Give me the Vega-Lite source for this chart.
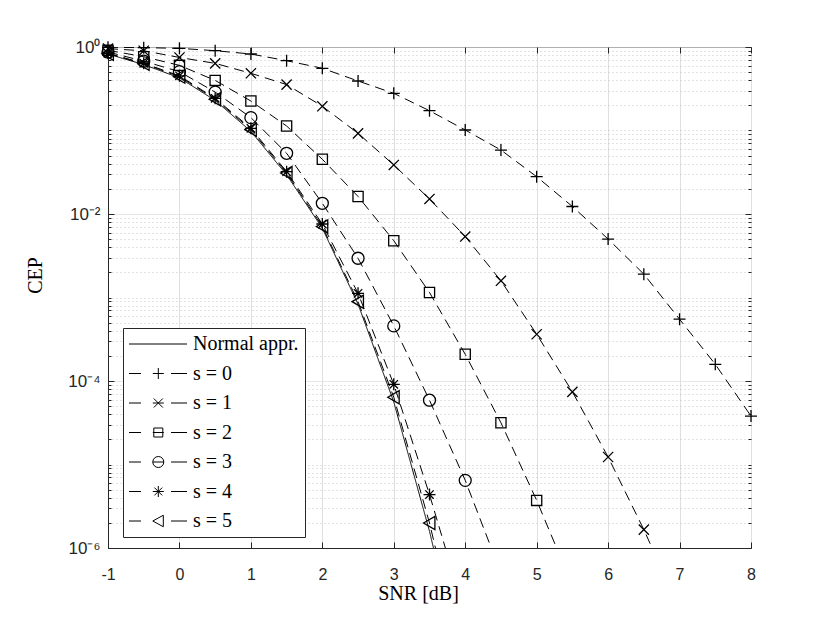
{
  "$schema": "https://vega.github.io/schema/vega-lite/v6.json",
  "width": 643,
  "height": 501,
  "autosize": {"type": "none"},
  "padding": {"left": 108, "top": 47, "right": 79, "bottom": 75},
  "background": "white",
  "config": {
    "view": {"stroke": "#262626", "strokeWidth": 1},
    "axis": {
      "domainColor": "#262626",
      "tickColor": "#262626",
      "labelColor": "#262626",
      "labelFont": "Liberation Sans",
      "labelFontSize": 16,
      "titleFont": "Liberation Serif",
      "titleFontSize": 20,
      "titleFontWeight": "normal",
      "titleColor": "#000000"
    }
  },
  "data": {
    "values": [
      {"x": -1, "y": 0.9931, "s": "s = 0"},
      {"x": -0.5, "y": 0.9817, "s": "s = 0"},
      {"x": 0, "y": 0.9638, "s": "s = 0"},
      {"x": 0.5, "y": 0.9036, "s": "s = 0"},
      {"x": 1, "y": 0.8241, "s": "s = 0"},
      {"x": 1.5, "y": 0.6855, "s": "s = 0"},
      {"x": 2, "y": 0.5559, "s": "s = 0"},
      {"x": 2.5, "y": 0.3917, "s": "s = 0"},
      {"x": 3, "y": 0.2786, "s": "s = 0"},
      {"x": 3.5, "y": 0.1726, "s": "s = 0"},
      {"x": 4, "y": 0.1014, "s": "s = 0"},
      {"x": 4.5, "y": 0.05834, "s": "s = 0"},
      {"x": 5, "y": 0.02799, "s": "s = 0"},
      {"x": 5.5, "y": 0.0123, "s": "s = 0"},
      {"x": 6, "y": 0.005012, "s": "s = 0"},
      {"x": 6.5, "y": 0.001905, "s": "s = 0"},
      {"x": 7, "y": 0.0005495, "s": "s = 0"},
      {"x": 7.5, "y": 0.0001585, "s": "s = 0"},
      {"x": 8, "y": 0.00003802, "s": "s = 0"},

      {"x": -1, "y": 0.955, "s": "s = 1"},
      {"x": -0.5, "y": 0.9016, "s": "s = 1"},
      {"x": 0, "y": 0.7499, "s": "s = 1"},
      {"x": 0.5, "y": 0.6368, "s": "s = 1"},
      {"x": 1, "y": 0.4842, "s": "s = 1"},
      {"x": 1.5, "y": 0.3548, "s": "s = 1"},
      {"x": 2, "y": 0.195, "s": "s = 1"},
      {"x": 2.5, "y": 0.09247, "s": "s = 1"},
      {"x": 3, "y": 0.03864, "s": "s = 1"},
      {"x": 3.5, "y": 0.01514, "s": "s = 1"},
      {"x": 4, "y": 0.00537, "s": "s = 1"},
      {"x": 4.5, "y": 0.001585, "s": "s = 1"},
      {"x": 5, "y": 0.0003631, "s": "s = 1"},
      {"x": 5.5, "y": 0.00007413, "s": "s = 1"},
      {"x": 6, "y": 0.0000123, "s": "s = 1"},
      {"x": 6.5, "y": 0.00000166, "s": "s = 1"},
      {"x": 7, "y": 1.862e-7, "s": "s = 1"},

      {"x": -1, "y": 0.912, "s": "s = 2"},
      {"x": -0.5, "y": 0.7656, "s": "s = 2"},
      {"x": 0, "y": 0.6026, "s": "s = 2"},
      {"x": 0.5, "y": 0.3981, "s": "s = 2"},
      {"x": 1, "y": 0.2254, "s": "s = 2"},
      {"x": 1.5, "y": 0.1132, "s": "s = 2"},
      {"x": 2, "y": 0.04519, "s": "s = 2"},
      {"x": 2.5, "y": 0.01622, "s": "s = 2"},
      {"x": 3, "y": 0.004786, "s": "s = 2"},
      {"x": 3.5, "y": 0.001148, "s": "s = 2"},
      {"x": 4, "y": 0.0002089, "s": "s = 2"},
      {"x": 4.5, "y": 0.00003162, "s": "s = 2"},
      {"x": 5, "y": 0.000003715, "s": "s = 2"},
      {"x": 5.5, "y": 3.548e-7, "s": "s = 2"},

      {"x": -1, "y": 0.871, "s": "s = 3"},
      {"x": -0.5, "y": 0.6761, "s": "s = 3"},
      {"x": 0, "y": 0.507, "s": "s = 3"},
      {"x": 0.5, "y": 0.2884, "s": "s = 3"},
      {"x": 1, "y": 0.1426, "s": "s = 3"},
      {"x": 1.5, "y": 0.05333, "s": "s = 3"},
      {"x": 2, "y": 0.01343, "s": "s = 3"},
      {"x": 2.5, "y": 0.002951, "s": "s = 3"},
      {"x": 3, "y": 0.0004571, "s": "s = 3"},
      {"x": 3.5, "y": 0.00005888, "s": "s = 3"},
      {"x": 4, "y": 0.000006457, "s": "s = 3"},
      {"x": 4.5, "y": 5.012e-7, "s": "s = 3"},

      {"x": -1, "y": 0.8414, "s": "s = 4"},
      {"x": -0.5, "y": 0.6383, "s": "s = 4"},
      {"x": 0, "y": 0.4519, "s": "s = 4"},
      {"x": 0.5, "y": 0.2427, "s": "s = 4"},
      {"x": 1, "y": 0.1062, "s": "s = 4"},
      {"x": 1.5, "y": 0.03214, "s": "s = 4"},
      {"x": 2, "y": 0.007586, "s": "s = 4"},
      {"x": 2.5, "y": 0.001122, "s": "s = 4"},
      {"x": 3, "y": 0.0000912, "s": "s = 4"},
      {"x": 3.5, "y": 0.000004365, "s": "s = 4"},
      {"x": 4, "y": 1.585e-7, "s": "s = 4"},

      {"x": -1, "y": 0.8318, "s": "s = 5"},
      {"x": -0.5, "y": 0.631, "s": "s = 5"},
      {"x": 0, "y": 0.4416, "s": "s = 5"},
      {"x": 0.5, "y": 0.2371, "s": "s = 5"},
      {"x": 1, "y": 0.1023, "s": "s = 5"},
      {"x": 1.5, "y": 0.0309, "s": "s = 5"},
      {"x": 2, "y": 0.007079, "s": "s = 5"},
      {"x": 2.5, "y": 0.0008913, "s": "s = 5"},
      {"x": 3, "y": 0.00006383, "s": "s = 5"},
      {"x": 3.5, "y": 0.000001995, "s": "s = 5"},
      {"x": 4, "y": 3.162e-8, "s": "s = 5"},

      {"x": -1, "y": 0.8222, "s": "Normal appr."},
      {"x": -0.5, "y": 0.6166, "s": "Normal appr."},
      {"x": 0, "y": 0.4266, "s": "Normal appr."},
      {"x": 0.5, "y": 0.2291, "s": "Normal appr."},
      {"x": 1, "y": 0.09772, "s": "Normal appr."},
      {"x": 1.5, "y": 0.02951, "s": "Normal appr."},
      {"x": 2, "y": 0.006761, "s": "Normal appr."},
      {"x": 2.5, "y": 0.0008318, "s": "Normal appr."},
      {"x": 3, "y": 0.00005623, "s": "Normal appr."},
      {"x": 3.5, "y": 0.000001585, "s": "Normal appr."},
      {"x": 4, "y": 2.512e-8, "s": "Normal appr."}
    ]
  },
  "layer": [
    {
      "mark": {"type": "line", "clip": true, "strokeWidth": 1, "color": "black"},
      "encoding": {
        "x": {
          "field": "x", "type": "quantitative",
          "scale": {"domain": [-1, 8], "nice": false, "zero": false},
          "axis": {
            "orient": "bottom",
            "values": [-1, 0, 1, 2, 3, 4, 5, 6, 7, 8],
            "labelExpr": "'' + datum.value",
            "title": "SNR [dB]",
            "grid": true,
            "gridColor": "#dfdfdf",
            "tickSize": -6,
            "labelPadding": 24,
            "labelFlush": false,
            "titleX": 310,
            "titleY": 51,
            "titleBaseline": "alphabetic",
            "titleAlign": "center"
          }
        },
        "y": {
          "field": "y", "type": "quantitative",
          "scale": {"type": "log", "domain": [0.000001, 1], "nice": false},
          "axis": {
            "orient": "left",
            "values": [1, 0.9, 0.8, 0.7, 0.6, 0.5, 0.4, 0.3, 0.2, 0.1, 0.09, 0.08, 0.07, 0.06, 0.05, 0.04, 0.03, 0.02, 0.01, 0.009, 0.008, 0.007, 0.006, 0.005, 0.004, 0.003, 0.002, 0.001, 0.0009, 0.0008, 0.0007, 0.0006, 0.0005, 0.0004, 0.0003, 0.0002, 0.0001, 0.00009, 0.00008, 0.00007, 0.00006, 0.00005, 0.00004, 0.00003, 0.00002, 0.00001, 0.000009, 0.000008, 0.000007, 0.000006, 0.000005, 0.000004, 0.000003, 0.000002, 0.000001],
            "labelExpr": "abs(log(datum.value)/LN10/2 - round(log(datum.value)/LN10/2)) < 0.001 ? (round(log(datum.value)/LN10) == 0 ? '10⁰' : round(log(datum.value)/LN10) == -2 ? '10⁻²' : round(log(datum.value)/LN10) == -4 ? '10⁻⁴' : '10⁻⁶') : ''",
            "labelOverlap": false,
            "labelFlush": false,
            "labelPadding": 14,
            "labelFontSize": 17,
            "title": "CEP",
            "grid": true,
            "gridColor": {"condition": {"test": "abs(log(datum.value)/LN10/2 - round(log(datum.value)/LN10/2)) < 0.001", "value": "#dfdfdf"}, "value": "#c4c4c4"},
            "gridDash": {"condition": {"test": "abs(log(datum.value)/LN10/2 - round(log(datum.value)/LN10/2)) < 0.001", "value": [1, 0]}, "value": [1, 3]},
            "tickSize": {"condition": {"test": "abs(log(datum.value)/LN10/2 - round(log(datum.value)/LN10/2)) < 0.001", "value": -6}, "value": -3},
            "titleAngle": -90,
            "titleX": -67,
            "titleY": 228,
            "titleBaseline": "alphabetic",
            "titleAlign": "center"
          }
        },
        "detail": {"field": "s", "type": "nominal"},
        "strokeDash": {"condition": {"test": "datum.s === 'Normal appr.'", "value": [1, 0]}, "value": [10, 6]}
      }
    },
    {
      "transform": [{"filter": "datum.s !== 'Normal appr.' && datum.y >= 0.000001"}],
      "mark": {"type": "point", "filled": false, "strokeWidth": 1.3, "size": 144, "color": "black", "opacity": 1},
      "encoding": {
        "x": {
          "field": "x", "type": "quantitative",
          "scale": {"domain": [-1, 8], "nice": false, "zero": false},
          "axis": {
            "orient": "top",
            "values": [-1, 0, 1, 2, 3, 4, 5, 6, 7, 8],
            "labels": false, "title": null, "grid": false, "domain": false,
            "tickSize": -6
          }
        },
        "y": {
          "field": "y", "type": "quantitative",
          "scale": {"type": "log", "domain": [0.000001, 1], "nice": false},
          "axis": {
            "orient": "right",
            "values": [1, 0.9, 0.8, 0.7, 0.6, 0.5, 0.4, 0.3, 0.2, 0.1, 0.09, 0.08, 0.07, 0.06, 0.05, 0.04, 0.03, 0.02, 0.01, 0.009, 0.008, 0.007, 0.006, 0.005, 0.004, 0.003, 0.002, 0.001, 0.0009, 0.0008, 0.0007, 0.0006, 0.0005, 0.0004, 0.0003, 0.0002, 0.0001, 0.00009, 0.00008, 0.00007, 0.00006, 0.00005, 0.00004, 0.00003, 0.00002, 0.00001, 0.000009, 0.000008, 0.000007, 0.000006, 0.000005, 0.000004, 0.000003, 0.000002, 0.000001],
            "labels": false, "title": null, "grid": false, "domain": false,
            "tickSize": {"condition": {"test": "abs(log(datum.value)/LN10/2 - round(log(datum.value)/LN10/2)) < 0.001", "value": -6}, "value": -3}
          }
        },
        "shape": {
          "field": "s", "type": "nominal",
          "scale": {
            "domain": ["s = 0", "s = 1", "s = 2", "s = 3", "s = 4", "s = 5"],
            "range": [
              "M-1,0L1,0M0,-1L0,1",
              "M-0.85,-0.85L0.85,0.85M-0.85,0.85L0.85,-0.85",
              "M-0.85,-0.85L0.85,-0.85L0.85,0.85L-0.85,0.85Z",
              "M1,0A1,1 0 1,1 -1,0A1,1 0 1,1 1,0Z",
              "M-1,0L1,0M0,-1L0,1M-0.7,-0.7L0.7,0.7M-0.7,0.7L0.7,-0.7",
              "M-1,0L0.9,-1.1L0.9,1.1Z"
            ]
          },
          "legend": null
        }
      }
    },
    {
      "transform": [{"filter": "false"}],
      "mark": {"type": "point", "filled": false, "strokeWidth": 1, "color": "black", "opacity": 1},
      "encoding": {
        "x": {"field": "x", "type": "quantitative", "axis": null},
        "y": {"field": "y", "type": "quantitative", "scale": {"type": "log"}, "axis": null},
        "shape": {
          "field": "s", "type": "nominal",
          "scale": {
            "domain": ["Normal appr.", "s = 0", "s = 1", "s = 2", "s = 3", "s = 4", "s = 5"],
            "range": [
              "M-2,0L9.6,0",
              "M-2,0L0.4,0M6.4,0L9.6,0M2.76,0L4.96,0M3.86,-1.1L3.86,1.1",
              "M-2,0L0.4,0M6.4,0L9.6,0M2.76,0L4.96,0M2.96,-0.9L4.76,0.9M2.96,0.9L4.76,-0.9",
              "M-2,0L0.4,0M6.4,0L9.6,0M2.76,0L4.96,0M2.96,-0.9L4.76,-0.9L4.76,0.9L2.96,0.9Z",
              "M-2,0L0.4,0M6.4,0L9.6,0M2.76,0L4.96,0M4.96,0A1.1,1.1 0 1,1 2.76,0A1.1,1.1 0 1,1 4.96,0",
              "M-2,0L0.4,0M6.4,0L9.6,0M2.76,0L4.96,0M3.86,-1.1L3.86,1.1M3.08,-0.78L4.64,0.78M3.08,0.78L4.64,-0.78",
              "M-2,0L0.4,0M6.4,0L9.6,0M2.76,0L4.86,-1.15L4.86,1.15Z"
            ]
          },
          "legend": {
            "title": null,
            "orient": "none",
            "legendX": 15,
            "legendY": 281,
            "padding": 6,
            "strokeColor": "#262626",
            "fillColor": "white",
            "cornerRadius": 0,
            "labelFont": "Liberation Serif",
            "labelFontSize": 20,
            "labelColor": "black",
            "labelOffset": 44,
            "labelLimit": 300,
            "rowPadding": 9.5,
            "symbolSize": 100,
            "symbolStrokeWidth": 1,
            "symbolStrokeColor": "black",
            "symbolFillColor": "transparent",
            "symbolOpacity": 1
          }
        }
      }
    }
  ],
  "resolve": {"axis": {"x": "independent", "y": "independent"}, "scale": {"shape": "independent"}}
}
